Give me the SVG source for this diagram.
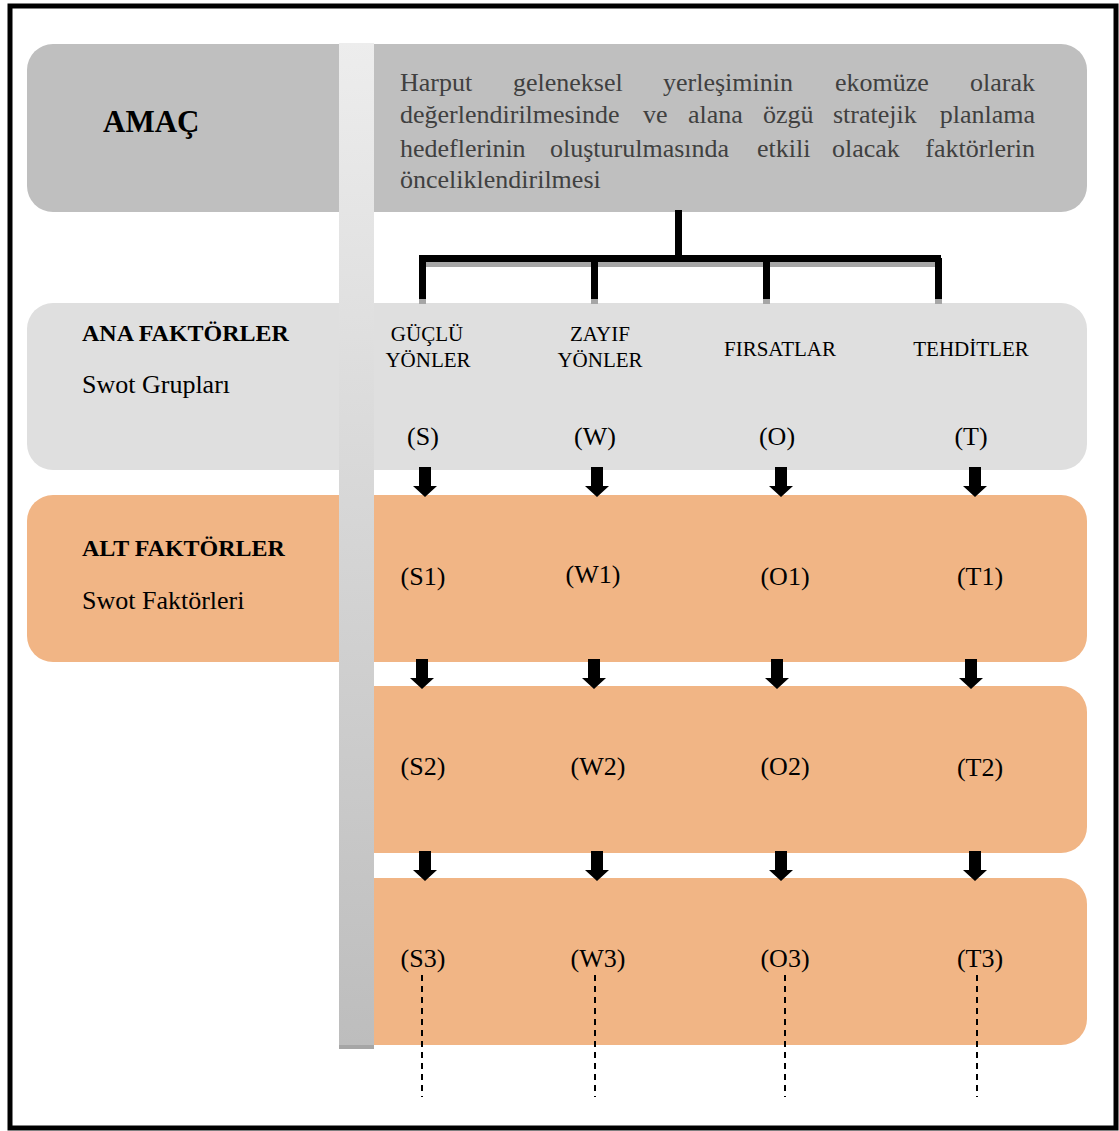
<svg xmlns="http://www.w3.org/2000/svg" width="1119" height="1131" viewBox="0 0 1119 1131">
<defs>
<linearGradient id="bar" x1="0" y1="0" x2="0" y2="1">
<stop offset="0" stop-color="#ededed"/>
<stop offset="1" stop-color="#bdbdbd"/>
</linearGradient>
<path id="arr" d="M-6,0 H6 V19 H12 L0,30 L-12,19 H-6 Z" fill="#000"/>
</defs>
<style>
text{font-family:"Liberation Serif","Times New Roman",serif;fill:#000}
.h{font-weight:bold;font-size:24px}
.s{font-size:26px}
.p{font-size:26px;fill:#404040}
.c{font-size:21px;text-anchor:middle}
.l{font-size:26px;text-anchor:middle}
.orange{fill:#f1b585}
.dash{stroke:#000;stroke-width:2;stroke-dasharray:6,5}
</style>
<rect x="10" y="6" width="1106" height="1122" fill="#fff" stroke="#000" stroke-width="5"/>

<g id="amac">
<rect x="27" y="44" width="1060" height="168" rx="26" fill="#bfbfbf"/>
<text x="103" y="132" style="font-weight:bold;font-size:31px">AMAÇ</text>
<text class="p" y="91"><tspan x="400">Harput</tspan><tspan x="513">geleneksel</tspan><tspan x="663">yerleşiminin</tspan><tspan x="835">ekomüze</tspan><tspan x="1035" text-anchor="end">olarak</tspan></text>
<text class="p" y="123"><tspan x="400">değerlendirilmesinde</tspan><tspan x="643">ve</tspan><tspan x="688">alana</tspan><tspan x="763">özgü</tspan><tspan x="833">stratejik</tspan><tspan x="1035" text-anchor="end">planlama</tspan></text>
<text class="p" y="157"><tspan x="400">hedeflerinin</tspan><tspan x="550">oluşturulmasında</tspan><tspan x="757">etkili</tspan><tspan x="832">olacak</tspan><tspan x="1035" text-anchor="end">faktörlerin</tspan></text>
<text class="p" y="188" x="400">önceliklendirilmesi</text>
</g>

<g id="ana">
<rect x="27" y="303" width="1060" height="167" rx="26" fill="#dfdfdf"/>
<text class="h" x="82" y="341">ANA FAKTÖRLER</text>
<text class="s" x="82" y="393">Swot Grupları</text>
<text class="c" x="427" y="341">GÜÇLÜ</text>
<text class="c" x="428" y="367">YÖNLER</text>
<text class="c" x="600" y="341">ZAYIF</text>
<text class="c" x="600" y="367">YÖNLER</text>
<text class="c" x="780" y="356">FIRSATLAR</text>
<text class="c" x="971" y="356">TEHDİTLER</text>
<text class="l" x="423" y="445">(S)</text>
<text class="l" x="595" y="445">(W)</text>
<text class="l" x="777" y="445">(O)</text>
<text class="l" x="971" y="445">(T)</text>
</g>

<g id="alt1">
<rect class="orange" x="27" y="495" width="1060" height="167" rx="26"/>
<text class="h" x="82" y="556">ALT FAKTÖRLER</text>
<text class="s" x="82" y="609">Swot Faktörleri</text>
<text class="l" x="423" y="585">(S1)</text>
<text class="l" x="593" y="583">(W1)</text>
<text class="l" x="785" y="585">(O1)</text>
<text class="l" x="980" y="585">(T1)</text>
</g>

<g id="alt2">
<rect class="orange" x="340" y="686" width="747" height="167" rx="26"/>
<text class="l" x="423" y="775">(S2)</text>
<text class="l" x="598" y="775">(W2)</text>
<text class="l" x="785" y="775">(O2)</text>
<text class="l" x="980" y="776">(T2)</text>
</g>

<g id="alt3">
<rect class="orange" x="340" y="878" width="747" height="167" rx="26"/>
<text class="l" x="423" y="967">(S3)</text>
<text class="l" x="598" y="967">(W3)</text>
<text class="l" x="785" y="967">(O3)</text>
<text class="l" x="980" y="967">(T3)</text>
</g>

<g id="bar-group">
<rect x="339" y="1044" width="35" height="5" fill="#a6a6a6"/>
<rect x="339" y="43" width="35" height="1002" fill="url(#bar)"/>
</g>

<g id="connectors">
<g fill="#a6a6a6">
<rect x="419" y="261" width="522" height="6"/>
<rect x="419" y="298" width="7" height="6"/>
<rect x="591" y="298" width="7" height="6"/>
<rect x="763" y="298" width="7" height="6"/>
<rect x="935" y="298" width="7" height="6"/>
<rect x="675" y="257" width="7" height="6"/>
</g>
<g fill="#000">
<rect x="675" y="210" width="7" height="50"/>
<rect x="419" y="255" width="522" height="7"/>
<rect x="419" y="258" width="7" height="41"/>
<rect x="591" y="258" width="7" height="41"/>
<rect x="763" y="258" width="7" height="41"/>
<rect x="935" y="258" width="7" height="41"/>
</g>
<use href="#arr" x="425" y="467"/>
<use href="#arr" x="597" y="467"/>
<use href="#arr" x="781" y="467"/>
<use href="#arr" x="975" y="467"/>
<use href="#arr" x="422" y="659"/>
<use href="#arr" x="594" y="659"/>
<use href="#arr" x="777" y="659"/>
<use href="#arr" x="971" y="659"/>
<use href="#arr" x="425" y="851"/>
<use href="#arr" x="597" y="851"/>
<use href="#arr" x="781" y="851"/>
<use href="#arr" x="975" y="851"/>
<line class="dash" x1="422" y1="975" x2="422" y2="1097"/>
<line class="dash" x1="595" y1="975" x2="595" y2="1097"/>
<line class="dash" x1="785" y1="975" x2="785" y2="1097"/>
<line class="dash" x1="977" y1="975" x2="977" y2="1097"/>
</g>
</svg>
